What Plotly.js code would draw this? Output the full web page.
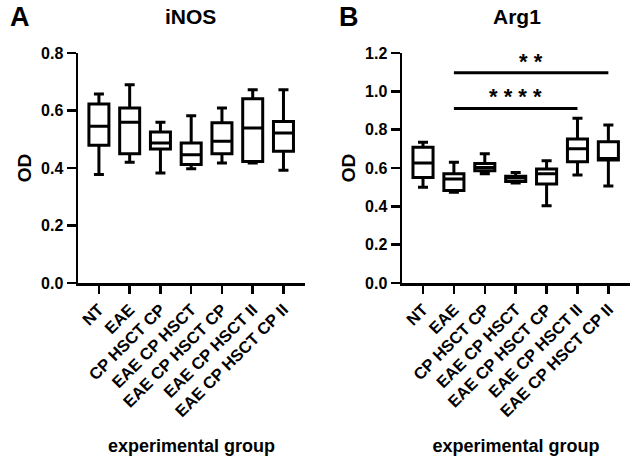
<!DOCTYPE html>
<html>
<head>
<meta charset="utf-8">
<script src="https://cdn.plot.ly/plotly-3.0.1.min.js"></script>
<style>html,body{margin:0;padding:0;background:#fff;}#chart{width:633px;height:456px;}</style>
</head>
<body>
<div id="chart"></div>
<script>
const groups = ["NT", "EAE", "CP HSCT CP", "EAE CP HSCT", "EAE CP HSCT CP", "EAE CP HSCT II", "EAE CP HSCT CP II"];

// iNOS (panel A)
const inosMin    = [0.377, 0.420, 0.383, 0.397, 0.417, 0.417, 0.392];
const inosQ1     = [0.479, 0.450, 0.466, 0.412, 0.450, 0.423, 0.458];
const inosMedian = [0.545, 0.559, 0.487, 0.446, 0.493, 0.539, 0.522];
const inosQ3     = [0.623, 0.609, 0.525, 0.487, 0.557, 0.641, 0.562];
const inosMax    = [0.657, 0.690, 0.559, 0.582, 0.609, 0.672, 0.672];

// Arg1 (panel B)
const argMin    = [0.499, 0.473, 0.570, 0.522, 0.403, 0.563, 0.506];
const argQ1     = [0.551, 0.482, 0.586, 0.530, 0.517, 0.633, 0.642];
const argMedian = [0.626, 0.543, 0.603, 0.548, 0.570, 0.700, 0.650];
const argQ3     = [0.708, 0.570, 0.623, 0.557, 0.595, 0.751, 0.737];
const argMax    = [0.734, 0.630, 0.675, 0.577, 0.638, 0.859, 0.824];

// significance brackets: [from group, to group, y, label]
const sigFrom  = ["EAE", "EAE"];
const sigTo    = ["EAE CP HSCT CP II", "EAE CP HSCT II"];
const sigY     = [1.097, 0.911];
const sigLabel = ["**", "****"];

const FONT = "Arial, 'Liberation Sans', sans-serif";

function boxTrace(xa, ya, mn, q1, md, q3, mx) {
  return {
    type: "box", x: groups, xaxis: xa, yaxis: ya,
    lowerfence: mn, q1: q1, median: md, q3: q3, upperfence: mx,
    fillcolor: "#ffffff", line: {color: "#000000", width: 3},
    whiskerwidth: 0.5, width: 0.65, boxpoints: false, hoverinfo: "skip",
    showlegend: false
  };
}

const data = [
  boxTrace("x", "y", inosMin, inosQ1, inosMedian, inosQ3, inosMax),
  boxTrace("x2", "y2", argMin, argQ1, argMedian, argQ3, argMax)
];

const xBase = {
  type: "category", categoryorder: "array", categoryarray: groups,
  range: [-0.68, 6.7], showline: true, linecolor: "#000", linewidth: 2.5,
  ticks: "outside", ticklen: 8, tickwidth: 2.5, tickcolor: "#000",
  tickangle: -45, showgrid: false, zeroline: false,
  tickfont: {family: FONT, size: 16.5, color: "#000", weight: "bold"},
  title: {text: "experimental group", font: {family: FONT, size: 18, color: "#000", weight: "bold"}, standoff: 20}
};
const yBase = {
  showline: true, linecolor: "#000", linewidth: 2.5,
  ticks: "outside", ticklen: 9, tickwidth: 2.5, tickcolor: "#000",
  showgrid: false, zeroline: false,
  tickfont: {family: FONT, size: 16, color: "#000", weight: "bold"},
  title: {text: "OD", font: {family: FONT, size: 19, color: "#000", weight: "bold"}, standoff: 5}
};

const shapes = [];
const annotations = [];
for (let i = 0; i < sigY.length; i++) {
  shapes.push({type: "line", xref: "x2", yref: "y2", x0: sigFrom[i], x1: sigTo[i], y0: sigY[i], y1: sigY[i],
    line: {color: "#000", width: 3}});
  annotations.push({xref: "x2", yref: "y2", x: (groups.indexOf(sigFrom[i]) + groups.indexOf(sigTo[i])) / 2,
    y: sigY[i], yshift: -3, yanchor: "bottom", showarrow: false, text: sigLabel[i].split("").join(" "),
    font: {family: FONT, size: 22, color: "#000", weight: "bold"}});
}
annotations.push(
  {xref: "paper", yref: "paper", x: 190/633, y: 1 - 17/456, showarrow: false, text: "iNOS", xanchor: "center", yanchor: "middle",
   font: {family: FONT, size: 21, color: "#000", weight: "bold"}},
  {xref: "paper", yref: "paper", x: 517/633, y: 1 - 17/456, showarrow: false, text: "Arg1", xanchor: "center", yanchor: "middle",
   font: {family: FONT, size: 21, color: "#000", weight: "bold"}},
  {xref: "paper", yref: "paper", x: 20/633, y: 1 - 17/456, showarrow: false, text: "A", xanchor: "center", yanchor: "middle",
   font: {family: FONT, size: 27, color: "#000", weight: "bold"}},
  {xref: "paper", yref: "paper", x: 349/633, y: 1 - 17/456, showarrow: false, text: "B", xanchor: "center", yanchor: "middle",
   font: {family: FONT, size: 27, color: "#000", weight: "bold"}}
);

const layout = {
  width: 633, height: 456,
  margin: {l: 0, r: 0, t: 0, b: 0},
  paper_bgcolor: "#fff", plot_bgcolor: "#fff",
  showlegend: false,
  font: {family: FONT, color: "#000"},
  xaxis: Object.assign({}, xBase, {domain: [78/633, 305/633], anchor: "y"}),
  yaxis: Object.assign({}, yBase, {domain: [1 - 283/456, 1 - 53/456], range: [0, 0.8], dtick: 0.2, tickformat: ".1f", anchor: "x"}),
  xaxis2: Object.assign({}, xBase, {domain: [402/633, 630/633], anchor: "y2"}),
  yaxis2: Object.assign({}, yBase, {domain: [1 - 283/456, 1 - 53/456], range: [0, 1.2], dtick: 0.2, tickformat: ".1f", anchor: "x2"}),
  shapes: shapes,
  annotations: annotations
};

Plotly.newPlot("chart", data, layout, {staticPlot: true, displayModeBar: false});
</script>
</body>
</html>
